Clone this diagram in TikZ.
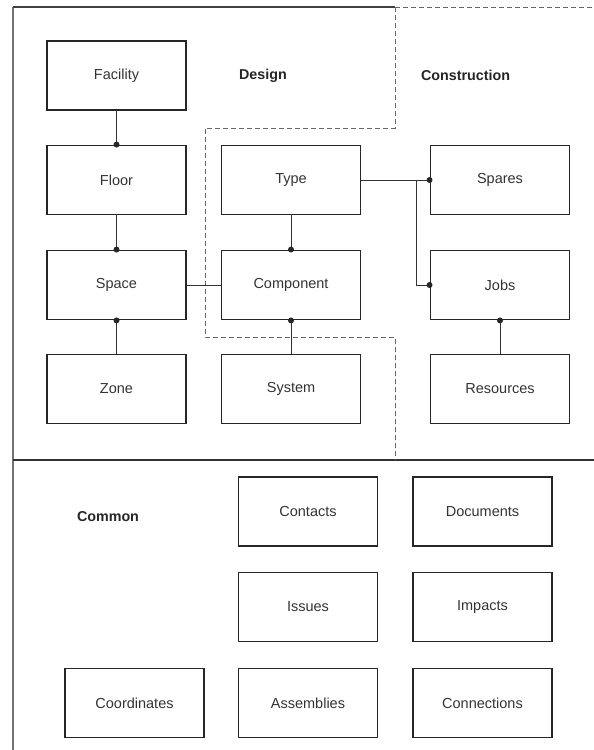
\documentclass[tikz,border=0pt]{standalone}
\usepackage{fontspec}
\setmainfont{Liberation Sans}
\begin{document}
\begin{tikzpicture}[x=1pt,y=-1pt,
  box/.style={draw=black!85,line width=1.9pt,minimum width=139pt,minimum height=69pt,inner sep=0pt,text=black!80,font=\fontsize{14.5}{17}\selectfont},
  head/.style={text=black!85,font=\fontsize{14.3}{16}\selectfont\bfseries},
  conn/.style={draw=black!80,line width=1pt},
  dot/.style={fill=black!85},
  frame/.style={draw=black!55,line width=1.5pt},
  dashline/.style={draw=black!60,line width=1pt,dash pattern=on 5pt off 3pt}]
\useasboundingbox (0,0) rectangle (594,750);
% frame
\coordinate (tl) at (13,7);
\coordinate (bl) at (13,750);
\coordinate (tm) at (395,7);
\coordinate (tr) at (594,7);
\coordinate (ml) at (13,460);
\coordinate (mr) at (594,460);
\draw[frame] (bl) -- (tl);
\draw[draw=black!75,line width=1.3pt] (tl) -- (tm);
\draw[draw=black!80,line width=1.2pt] (ml) -- (mr);
\draw[dashline] (tm) -- (tr);
\coordinate (d1) at (395,128);
\coordinate (d2) at (205,128);
\coordinate (d3) at (205,337);
\coordinate (d4) at (395,337);
\coordinate (d5) at (395,460);
\draw[dashline] (tm) -- (d1) -- (d2) -- (d3) -- (d4) -- (d5);
% boxes
\node[box] (facility) at (116.5,75.5) {Facility};
\node[box] (floor) at (116.5,180) {Floor};
\node[box] (space) at (116.5,285) {Space};
\node[box] (zone) at (116.5,389) {Zone};
\node[box] (type) at (291,180) {Type};
\node[box] (comp) at (291,285) {Component};
\node[box] (system) at (291,389) {System};
\node[box] (spares) at (500,180) {Spares};
\node[box] (jobs) at (500,285) {Jobs};
\node[box] (res) at (500,389) {Resources};
\node[box] (contacts) at (308,511.5) {Contacts};
\node[box] (documents) at (482.5,511.5) {Documents};
\node[box] (issues) at (308,607) {Issues};
\node[box] (impacts) at (482.5,607) {Impacts};
\node[box] (coords) at (134.5,703) {Coordinates};
\node[box] (assemblies) at (308,703) {Assemblies};
\node[box] (connections) at (482.5,703) {Connections};
% headings
\node[head] (design) at (263,75.5) {Design};
\node[head] (construction) at (465.5,75.5) {Construction};
\node[head] (common) at (108,517) {Common};
% connectors
\draw[conn] (facility.south) -- (floor.north);
\fill[dot] (floor.north) circle (3pt);
\draw[conn] (floor.south) -- (space.north);
\fill[dot] (space.north) circle (3pt);
\draw[conn] (space.south) -- (zone.north);
\fill[dot] (space.south) circle (3pt);
\draw[conn] (space.east) -- (comp.west);
\draw[conn] (type.south) -- (comp.north);
\fill[dot] (comp.north) circle (3pt);
\draw[conn] (comp.south) -- (system.north);
\fill[dot] (comp.south) circle (3pt);
\draw[conn] (type.east) -- (spares.west);
\fill[dot] (spares.west) circle (3pt);
\coordinate (br) at (416,180);
\draw[conn] (br) |- (jobs.west);
\fill[dot] (jobs.west) circle (3pt);
\draw[conn] (jobs.south) -- (res.north);
\fill[dot] (jobs.south) circle (3pt);
\end{tikzpicture}
\end{document}
